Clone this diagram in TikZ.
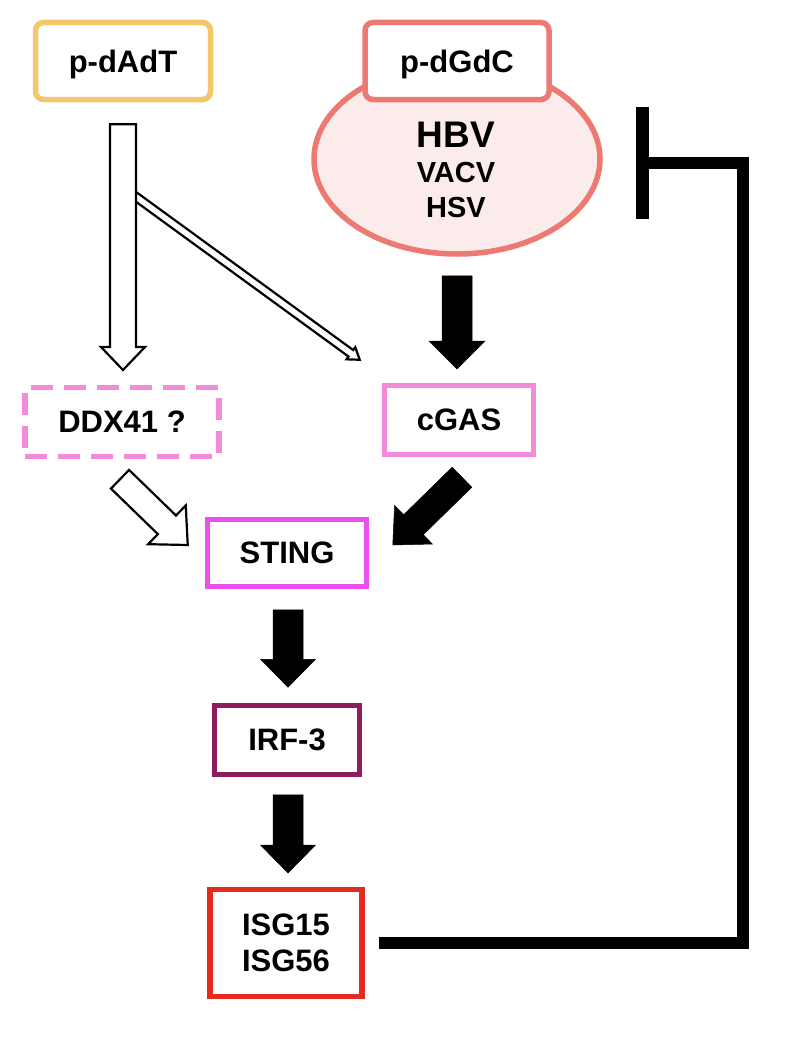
\documentclass[tikz,border=0pt]{standalone}
\usepackage{fontspec}
\setmainfont{Liberation Sans}
\usetikzlibrary{calc,shapes.geometric}
\definecolor{cYel}{HTML}{F5C76B}
\definecolor{cSal}{HTML}{EC7A73}
\definecolor{cEll}{HTML}{FBEBEA}
\definecolor{cPink}{HTML}{F28BD8}
\definecolor{cMag}{HTML}{EE50EE}
\definecolor{cPlum}{HTML}{8E1F5C}
\definecolor{cRed}{HTML}{E52A1E}
\newcommand\blockarr[6]{%
  \coordinate (ba-h) at ($(#3)!#6!(#2)$);
  \draw[#1] ($(#2)!#4!90:(#3)$) -- ($(ba-h)!#4!-90:(#2)$) -- ($(ba-h)!#5!-90:(#2)$) -- (#3)
    -- ($(ba-h)!#5!90:(#2)$) -- ($(ba-h)!#4!90:(#2)$) -- ($(#2)!#4!-90:(#3)$) -- cycle;}
\begin{document}
\begin{tikzpicture}[x=1pt,y=-1pt,
  lbl/.style={font=\fontsize{31pt}{36pt}\selectfont\bfseries, inner sep=0pt},
  box/.style={lbl, draw, line width=5.5pt, fill=white, align=center, text depth=0pt},
  hollow/.style={fill=white, draw=black, line width=2.2pt, line join=miter},
  solid/.style={fill=black, draw=black, line width=0.5pt, line join=miter},
  fb/.style={draw=black, line width=12pt, line join=miter}]
\useasboundingbox[fill=white] (0,0) rectangle (800,1041);

% nodes
\node[box, draw=cYel, rounded corners=8pt, minimum width=175pt, minimum height=77pt] (pdAdT) at (123,61) {p-dAdT};
\node[ellipse, draw=cSal, fill=cEll, line width=5.5pt, minimum width=286pt, minimum height=190pt] (virus) at (457,159) {};
\node[box, draw=cSal, rounded corners=8pt, minimum width=184pt, minimum height=77pt] (pdGdC) at (457,61) {p-dGdC};
\node[lbl, font=\fontsize{37pt}{40pt}\selectfont\bfseries] (hbv) at (456,135) {HBV};
\node[lbl, font=\fontsize{29pt}{32pt}\selectfont\bfseries] (vacv) at (456,173) {VACV};
\node[lbl, font=\fontsize{29pt}{32pt}\selectfont\bfseries] (hsv) at (456,208) {HSV};
\node[box, draw=cPink, dash pattern=on 22pt off 11pt, minimum width=194pt, minimum height=69pt] (ddx) at (122,422) {DDX41 ?};
\node[box, draw=cPink, minimum width=149pt, minimum height=69pt] (cgas) at (459,420) {cGAS};
\node[box, draw=cMag, minimum width=159pt, minimum height=67pt] (sting) at (287,553) {STING};
\node[box, draw=cPlum, minimum width=145pt, minimum height=69pt] (irf) at (287,740) {IRF-3};
\node[box, draw=cRed, minimum width=152pt, minimum height=107pt] (isg) at (286,943) {ISG15\\ISG56};

% connector end points
\coordinate (a1s) at ($(pdAdT.south)+(0,22)$);
\coordinate (a1e) at (a1s |- 0,370);
\coordinate (a2s) at (128,191);
\coordinate (a2e) at ($(cgas.north west)+(-22,-23)$);
\coordinate (a3s) at ($(virus.south)+(0,19)$);
\coordinate (a3e) at (a3s |- 0,369);
\coordinate (a4s) at ($(ddx.south)+(-2,20)$);
\coordinate (a4e) at ($(sting.west)+(-17,-8)$);
\coordinate (a5s) at ($(cgas.south)+(3,20)$);
\coordinate (a5e) at ($(sting.east)+(23.5,-8)$);
\coordinate (a6s) at ($(sting.south)+(1,20.5)$);
\coordinate (a6e) at ($(irf.north)+(1,-15.5)$);
\coordinate (a7s) at ($(irf.south)+(1,17.5)$);
\coordinate (a7e) at (a7s |- 0,873);

% arrows
\blockarr{hollow}{a2s}{a2e}{4pt}{7.5pt}{11pt}
\blockarr{hollow}{a1s}{a1e}{13pt}{22pt}{23pt}
\blockarr{solid}{a3s}{a3e}{15pt}{28pt}{28pt}
\blockarr{hollow}{a4s}{a4e}{13pt}{27pt}{29pt}
\blockarr{solid}{a5s}{a5e}{14pt}{27pt}{29pt}
\blockarr{solid}{a6s}{a6e}{15pt}{27.5pt}{28pt}
\blockarr{solid}{a7s}{a7e}{15pt}{27.5pt}{28pt}

% feedback inhibition
\coordinate (fbs) at ($(isg.east)+(14,0)$);
\coordinate (inh) at ($(virus.east)+(40,4)$);
\coordinate (fbc) at (743,163);
\draw[fb] (fbs) -| (fbc) -- (inh);
\draw[fb, line width=13pt] ($(inh)+(0,-56)$) -- ($(inh)+(0,56)$);
\end{tikzpicture}
\end{document}
